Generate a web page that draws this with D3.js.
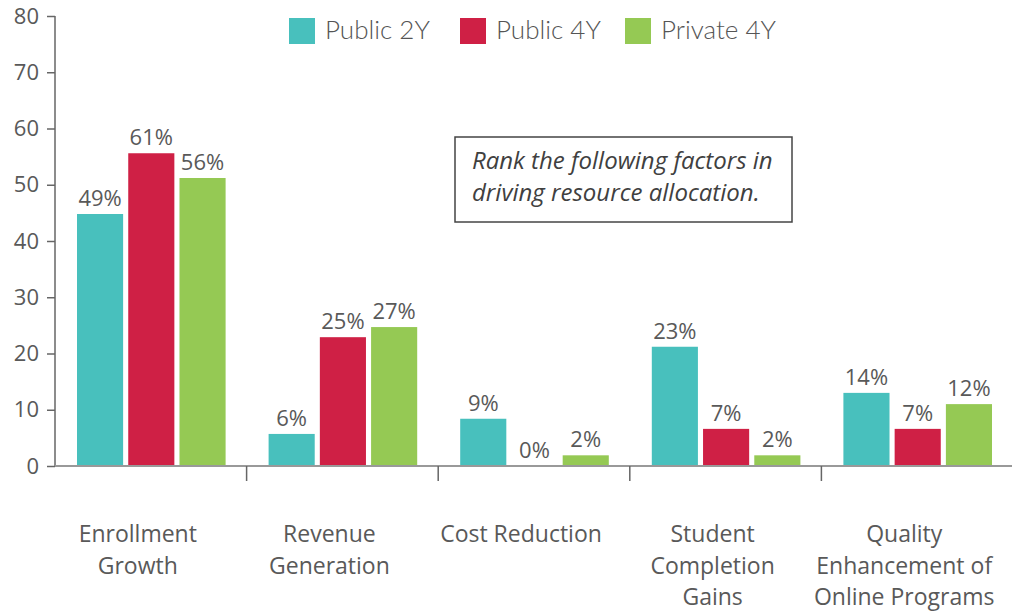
<!DOCTYPE html>
<html>
<head>
<meta charset="utf-8">
<script src="https://cdn.jsdelivr.net/npm/d3@7"></script>
<style>
  body { margin: 0; background: #fff; }
  svg { display: block; }
</style>
</head>
<body>
<div id="chart"></div>
<script>
// categories (line breaks as in the picture)
var categories = [
    ["Enrollment", "Growth"],
    ["Revenue", "Generation"],
    ["Cost Reduction"],
    ["Student", "Completion", "Gains"],
    ["Quality", "Enhancement of", "Online Programs"]
];
var seriesNames = ["Public 2Y", "Public 4Y", "Private 4Y"];

// bar heights
var public2Y  = [44.8, 5.7, 8.4, 21.2, 13.0];
var public4Y  = [55.6, 22.9, 0, 6.6, 6.6];
var private4Y = [51.2, 24.7, 1.9, 1.9, 11.0];

// value labels printed above the bars
var public2YLabels  = [49, 6, 9, 23, 14];
var public4YLabels  = [61, 25, 0, 7, 7];
var private4YLabels = [56, 27, 2, 2, 12];

var yTicks = [0, 10, 20, 30, 40, 50, 60, 70, 80];

var noteLines = ["Rank the following factors in", "driving resource allocation."];

var colors = ["#48c0bd", "#cf2045", "#95c954"];

var width = 1012,
    height = 612;
var margin = {top: 16, right: 0, bottom: 146, left: 55};

var svg = d3.select("#chart")
    .append("svg")
    .attr("width", width)
    .attr("height", height);

var g = svg.append("g")
    .attr("transform", "translate(" + margin.left + "," + margin.top + ")");

var innerW = width - margin.left - margin.right + 1,
    innerH = height - margin.top - margin.bottom; // 0 at y=466

var x0 = d3.scaleBand()
    .domain(d3.range(categories.length))
    .range([0, innerW]);

var x1 = d3.scaleBand()
    .domain(d3.range(seriesNames.length))
    .range([22, x0.bandwidth() - 21])
    .paddingInner(0.1);

var y = d3.scaleLinear()
    .domain([0, 80])
    .range([innerH, 0]);

var series = [public2Y, public4Y, private4Y];
var labels = [public2YLabels, public4YLabels, private4YLabels];

var rows = [];
categories.forEach(function(c, i) {
    series.forEach(function(s, j) {
        rows.push({cat: i, s: j, v: s[i], label: labels[j][i]});
    });
});

//bars
g.selectAll(".bar")
    .data(rows)
    .enter().append("rect")
    .attr("class", "bar")
    .attr("x", function(d) { return x0(d.cat) + x1(d.s); })
    .attr("y", function(d) { return y(d.v); })
    .attr("width", x1.bandwidth())
    .attr("height", function(d) { return y(0) - y(d.v); })
    .style("fill", function(d) { return colors[d.s]; });

//value labels
g.selectAll(".valueLabel")
    .data(rows)
    .enter().append("text")
    .attr("class", "valueLabel")
    .attr("x", function(d) { return x0(d.cat) + x1(d.s) + x1.bandwidth() / 2; })
    .attr("y", function(d) { return y(d.v) - 8; })
    .attr("text-anchor", "middle")
    .style("font-family", "'Open Sans', sans-serif")
    .style("font-size", "22px")
    .style("fill", "#595959")
    .text(function(d) { return d.label + "%"; });

//y axis
var yAxis = g.append("g")
    .call(d3.axisLeft(y).tickValues(yTicks).tickSize(8).tickPadding(8));
yAxis.select(".domain").attr("stroke", "#666").attr("stroke-width", 1.5)
    .attr("d", "M0," + y(80) + "V" + y(0));
yAxis.selectAll(".tick line").attr("stroke", "#666").attr("stroke-width", 1.5);
yAxis.selectAll(".tick text")
    .style("font-family", "'Open Sans', sans-serif")
    .style("font-size", "22px")
    .style("fill", "#595959");

//x axis line
g.append("line")
    .attr("x1", 0)
    .attr("x2", innerW)
    .attr("y1", y(0))
    .attr("y2", y(0))
    .attr("stroke", "#999")
    .attr("stroke-width", 2);

//category separators
g.selectAll(".sep")
    .data(d3.range(1, categories.length))
    .enter().append("line")
    .attr("class", "sep")
    .attr("x1", function(d) { return x0(d); })
    .attr("x2", function(d) { return x0(d); })
    .attr("y1", y(0))
    .attr("y2", y(0) + 15)
    .attr("stroke", "#666")
    .attr("stroke-width", 1.5);

//category labels
var catText = g.selectAll(".catLabel")
    .data(categories)
    .enter().append("text")
    .attr("class", "catLabel")
    .attr("text-anchor", "middle")
    .style("font-family", "'Open Sans', sans-serif")
    .style("font-size", "23px")
    .style("fill", "#595959");

catText.each(function(lines, i) {
    var t = d3.select(this);
    lines.forEach(function(l, k) {
        t.append("tspan")
            .attr("x", x0(i) + x0.bandwidth() / 2 - 13)
            .attr("y", y(0) + 76 + k * 31.5)
            .text(l);
    });
});

//legend
var legendX = [289, 460, 625];
var legend = svg.selectAll(".legend")
    .data(seriesNames)
    .enter().append("g")
    .attr("class", "legend")
    .attr("transform", function(d, i) { return "translate(" + legendX[i] + ",18)"; });

legend.append("rect")
    .attr("width", 26)
    .attr("height", 26)
    .style("fill", function(d, i) { return colors[i]; });

legend.append("text")
    .attr("x", 36)
    .attr("y", 21)
    .style("font-family", "Lato, sans-serif")
    .style("font-weight", 300)
    .style("font-size", "26px")
    .style("fill", "#555")
    .text(function(d) { return d; });

//note box
svg.append("rect")
    .attr("x", 455)
    .attr("y", 137)
    .attr("width", 337)
    .attr("height", 85)
    .style("fill", "none")
    .style("stroke", "#444")
    .style("stroke-width", 1.5);

svg.selectAll(".note")
    .data(noteLines)
    .enter().append("text")
    .attr("class", "note")
    .attr("x", 472)
    .attr("y", function(d, i) { return 169 + i * 32; })
    .style("font-family", "'Open Sans', sans-serif")
    .style("font-style", "italic")
    .style("font-size", "24px")
    .style("fill", "#404040")
    .text(function(d) { return d; });
</script>
</body>
</html>
